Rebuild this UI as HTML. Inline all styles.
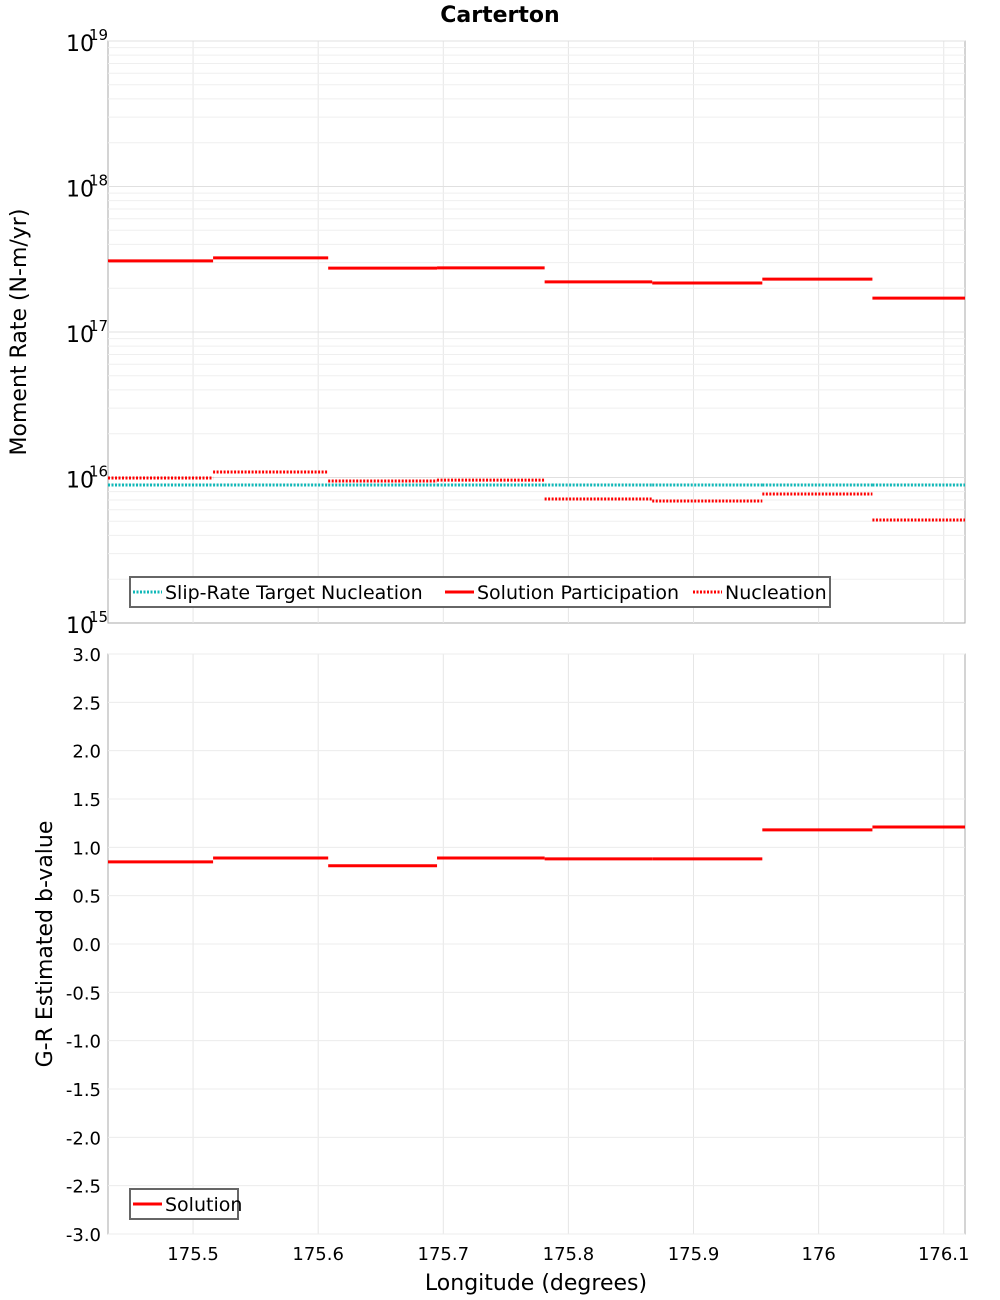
<!DOCTYPE html>
<html><head><meta charset="utf-8"><style>
body{margin:0;background:#fff;}
svg{display:block;font-family:"DejaVu Sans","Liberation Sans",sans-serif;}
</style></head><body>
<svg id="c" width="1000" height="1300" xmlns="http://www.w3.org/2000/svg">
<text x="500" y="22" text-anchor="middle" font-size="22" font-weight="bold">Carterton</text>
<g id="topPlot"></g><g id="botPlot"></g>
<text transform="translate(26,332) rotate(-90)" text-anchor="middle" font-size="22">Moment Rate (N-m/yr)</text>
<text transform="translate(52,944) rotate(-90)" text-anchor="middle" font-size="22">G-R Estimated b-value</text>
<text x="536" y="1290" text-anchor="middle" font-size="22">Longitude (degrees)</text>
</svg>
<script>
const binEdges=[175.432,175.516,175.608,175.695,175.781,175.867,175.955,176.043,176.117];
const participation=[3.08e17,3.23e17,2.75e17,2.76e17,2.21e17,2.17e17,2.31e17,1.71e17];
const nucleation=[9.93e15,1.09e16,9.46e15,9.6e15,7.11e15,6.89e15,7.7e15,5.1e15];
const targetNucleation=[8.88e15,8.88e15,8.88e15,8.88e15,8.88e15,8.88e15,8.88e15,8.88e15];
const bValues=[0.85,0.89,0.81,0.89,0.88,0.88,1.18,1.21];
const xTicks=[175.5,175.6,175.7,175.8,175.9,176,176.1];
const xTickLabels=["175.5","175.6","175.7","175.8","175.9","176","176.1"];
const logExps=[15,16,17,18,19];
const bTicks=[-3,-2.5,-2,-1.5,-1,-0.5,0,0.5,1,1.5,2,2.5,3];

const NS="http://www.w3.org/2000/svg";
const L=108,R=965,xmin=175.432,xmax=176.117;
const T1=41,B1=623,T2=654,B2=1234;
const X=v=>L+(v-xmin)/(xmax-xmin)*(R-L);
const Y1=v=>B1-(Math.log10(v)-15)/4*(B1-T1);
const Y2=v=>B2-(v+3)/6*(B2-T2);
function mk(p,t,a){const e=document.createElementNS(NS,t);for(const k in a)e.setAttribute(k,a[k]);p.appendChild(e);return e;}
const gTop=document.getElementById('topPlot'),gBot=document.getElementById('botPlot');

for(const [g,T,B] of [[gTop,T1,B1],[gBot,T2,B2]]){
  const r=mk(g,'rect',{x:L,y:T,width:R-L,height:B-T,fill:'#fff',stroke:'#aaa'});
  
  
  xTicks.forEach((t,i)=>{const l=mk(g,'line',{x1:X(t),x2:X(t),y1:T,y2:B,stroke:'#e6e6e6'});
    
    });
}
for(let e=15;e<19;e++)for(let m=2;m<=10;m++){const y=Y1(m*Math.pow(10,e));
  const l=mk(gTop,'line',{x1:L,x2:R,y1:y,y2:y,stroke:m==10?'#e0e0e0':'#efefef'});
  
  }
logExps.forEach(e=>{const y=Y1(Math.pow(10,e));
  const t=mk(gTop,'text',{x:66,y:y+10,'font-size':22});t.textContent='10';
  
  
  const s=mk(gTop,'text',{x:89,y:y-1,'font-size':15});s.textContent=String(e);
  
  });
bTicks.forEach(v=>{const y=Y2(v);
  const l=mk(gBot,'line',{x1:L,x2:R,y1:y,y2:y,stroke:'#ececec'});
  
  
  const t=mk(gBot,'text',{x:101,y:y+7,'font-size':18,'text-anchor':'end'});t.textContent=v.toFixed(1);
  
  });
xTicks.forEach((v,i)=>{const t=mk(gBot,'text',{x:X(v),y:1260,'font-size':18,'text-anchor':'middle'});t.textContent=xTickLabels[i];
  
  });

function steps(g,vals,Y,col,dash,name){
  vals.forEach((v,i)=>{const a={x1:X(binEdges[i]),x2:X(binEdges[i+1]),y1:Y(v),y2:Y(v),stroke:col,'stroke-width':3};
    if(dash)a['stroke-dasharray']='2,1.5';
    const l=mk(g,'line',a);
    
    });
}
steps(gTop,targetNucleation,Y1,'#10b8b8',true,'target-nucleation-segment');
steps(gTop,participation,Y1,'#ff0000',false,'participation-segment');
steps(gTop,nucleation,Y1,'#ff0000',true,'nucleation-segment');
steps(gBot,bValues,Y2,'#ff0000',false,'b-value-segment');

function legend(g,x,y,w,items){
  const r=mk(g,'rect',{x:x,y:y,width:w,height:30,fill:'#fff',stroke:'#666','stroke-width':2});
  
  
  let cx=x+3;
  items.forEach(([lab,col,dash,tw])=>{
    const a={x1:cx,x2:cx+29,y1:y+15,y2:y+15,stroke:col,'stroke-width':3};if(dash)a['stroke-dasharray']='2,1.5';
    const l=mk(g,'line',a);
    
    
    const t=mk(g,'text',{x:cx+32,y:y+22,'font-size':19});t.textContent=lab;
    
    
    cx+=32+tw+4;});
}
legend(gTop,130,577,700,[['Slip-Rate Target Nucleation','#10b8b8',true,276],['Solution Participation','#ff0000',false,212],['Nucleation','#ff0000',true,110]]);
legend(gBot,130,1189,108,[['Solution','#ff0000',false,70]]);
</script>
</body></html>
